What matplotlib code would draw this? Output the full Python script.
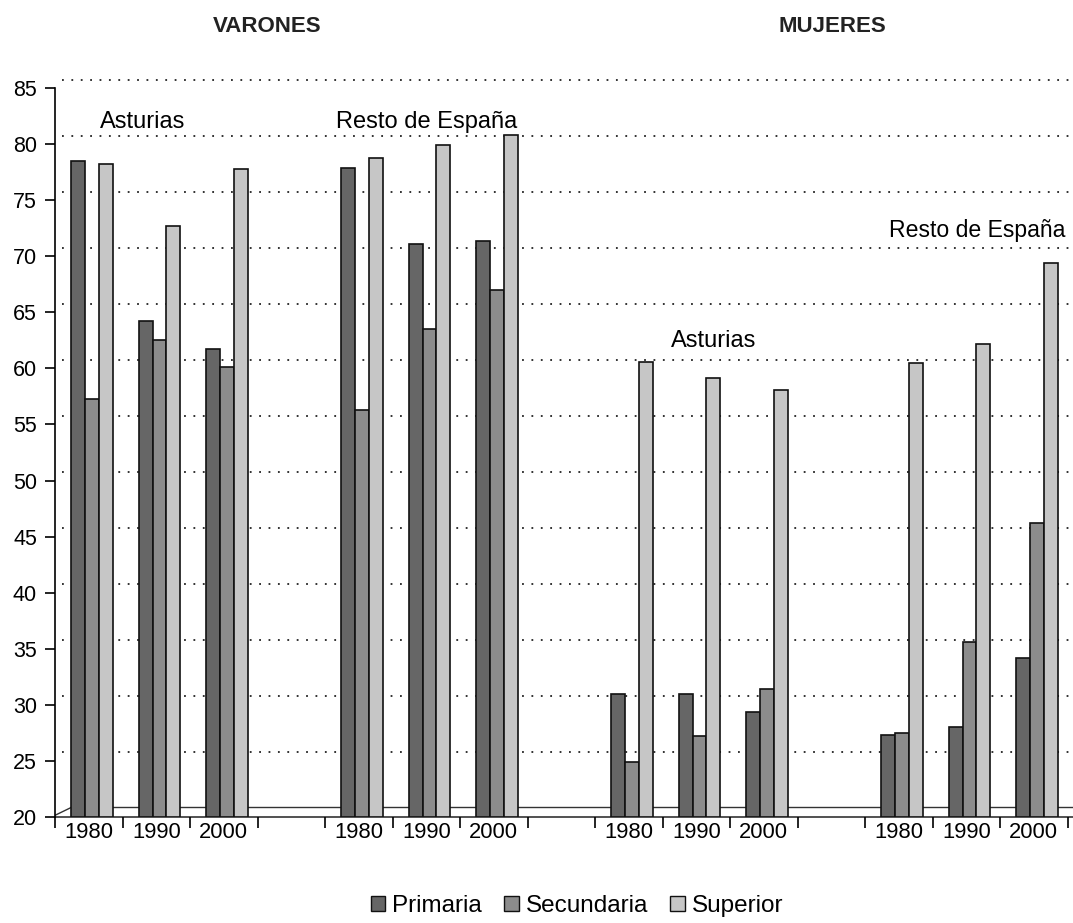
import matplotlib
matplotlib.use("Agg")
import matplotlib.pyplot as plt
from matplotlib.patches import Patch

# ---------------- data ----------------
years = ['1980', '1990', '2000']
series = ['Primaria', 'Secundaria', 'Superior']
sex_titles = ['VARONES', 'MUJERES']
region_labels = ['Asturias', 'Resto de España', 'Asturias', 'Resto de España']

varones_asturias_primaria = [78.5, 64.2, 61.7]
varones_asturias_secundaria = [57.3, 62.5, 60.1]
varones_asturias_superior = [78.2, 72.7, 77.8]

varones_resto_primaria = [77.9, 71.1, 71.4]
varones_resto_secundaria = [56.3, 63.5, 67.0]
varones_resto_superior = [78.8, 79.9, 80.8]

mujeres_asturias_primaria = [31.0, 31.0, 29.4]
mujeres_asturias_secundaria = [24.9, 27.2, 31.4]
mujeres_asturias_superior = [60.6, 59.1, 58.1]

mujeres_resto_primaria = [27.3, 28.0, 34.2]
mujeres_resto_secundaria = [27.5, 35.6, 46.2]
mujeres_resto_superior = [60.5, 62.2, 69.4]

y_ticks = [20, 25, 30, 35, 40, 45, 50, 55, 60, 65, 70, 75, 80, 85]

# ---------------- layout / style ----------------
colors = ['#666666', '#8c8c8c', '#c6c6c6']
FONT = ['Liberation Sans', 'DejaVu Sans']
plt.rcParams['font.family'] = FONT

groups = [
    (varones_asturias_primaria, varones_asturias_secundaria, varones_asturias_superior),
    (varones_resto_primaria, varones_resto_secundaria, varones_resto_superior),
    (mujeres_asturias_primaria, mujeres_asturias_secundaria, mujeres_asturias_superior),
    (mujeres_resto_primaria, mujeres_resto_secundaria, mujeres_resto_superior),
]
group_start_slot = [0, 4, 8, 12]

W, H = 1073, 923
fig = plt.figure(figsize=(W / 100, H / 100), dpi=100)
slot_px = 67.5
x0_px = 55
y20_px = 817
px_per_unit = 11.215
ymin, ymax = 20, 86.6
xmin, xmax = 0, 15.3
ax_left = x0_px / W
ax_width = (xmax - xmin) * slot_px / W
ax_bottom = (H - y20_px) / H
ax_height = (ymax - ymin) * px_per_unit / H
ax = fig.add_axes([ax_left, ax_bottom, ax_width, ax_height])
ax.set_xlim(xmin, xmax)
ax.set_ylim(ymin, ymax)

# back-wall dotted grid (offset for pseudo-3D look)
grid_offset = 0.76
for v in y_ticks[1:]:
    ax.plot([0.11, xmax], [v + grid_offset, v + grid_offset], color='#222222',
            lw=1.3, linestyle=(0, (1, 4.2)), zorder=1, clip_on=False)

# floor back edge and left diagonal
ax.plot([0.24, xmax], [20.85, 20.85], color='#333333', lw=1.0, zorder=1)
ax.plot([0, 0.24], [20.15, 20.85], color='#333333', lw=1.0, zorder=1)
ax.plot([0, xmax], [20.0, 20.0], color='#333333', lw=1.2, zorder=1, clip_on=False)

# bars
bar_w = 0.205
bar_off = 0.24
for g, start in zip(groups, group_start_slot):
    for si, vals in enumerate(g):
        xs = [start + i + bar_off + si * bar_w for i in range(len(years))]
        ax.bar(xs, [v - ymin for v in vals], bottom=ymin, width=bar_w,
               align='edge', color=colors[si], edgecolor='#111111',
               linewidth=1.2, zorder=3)

# axes styling
for s in ['top', 'right', 'bottom']:
    ax.spines[s].set_visible(False)
ax.spines['left'].set_linewidth(1.2)
ax.spines['left'].set_bounds(20, 85)
ax.set_yticks(y_ticks)
ax.set_yticklabels([str(t) for t in y_ticks], fontsize=15.5)
ax.tick_params(axis='y', length=7, width=1.2, pad=6)

# x ticks: boundaries (marks), years at centres (labels)
ax.set_xticks(list(range(0, 16)))
ax.set_xticklabels([])
ax.tick_params(axis='x', length=8, width=1.2, direction='out', bottom=True)
year_pos = []
year_lab = []
for start in group_start_slot:
    for i, y in enumerate(years):
        year_pos.append(start + i + 0.5)
        year_lab.append(y)
for xp, lab in zip(year_pos, year_lab):
    ax.text(xp, 20 - 0.45, lab, ha='center', va='top', fontsize=15.8,
            transform=ax.transData, clip_on=False)

# region labels
label_pos = [(1.30, 82.0, 'center', 17), (5.51, 82.0, 'center', 17),
             (9.76, 62.4, 'center', 17), (12.36, 72.3, 'left', 16.6)]
for (xp, yp, ha, fs), lab in zip(label_pos, region_labels):
    ax.text(xp, yp, lab, ha=ha, va='center', fontsize=fs, clip_on=False)

# titles
fig.text(267 / W, 1 - 26 / H, sex_titles[0], ha='center', va='center',
         fontsize=16, fontweight='bold', color='#222222')
fig.text(832 / W, 1 - 26 / H, sex_titles[1], ha='center', va='center',
         fontsize=16, fontweight='bold', color='#222222')

# legend
handles = [Patch(facecolor=c, edgecolor='#111111', linewidth=1.0) for c in colors]
fig.legend(handles, series, loc='center', bbox_to_anchor=(577 / W, 1 - 906 / H),
           ncol=3, frameon=False, fontsize=17.5, handlelength=0.6,
           handleheight=0.6, handletextpad=0.3, columnspacing=0.9)

fig.savefig('out.png', dpi=100)
